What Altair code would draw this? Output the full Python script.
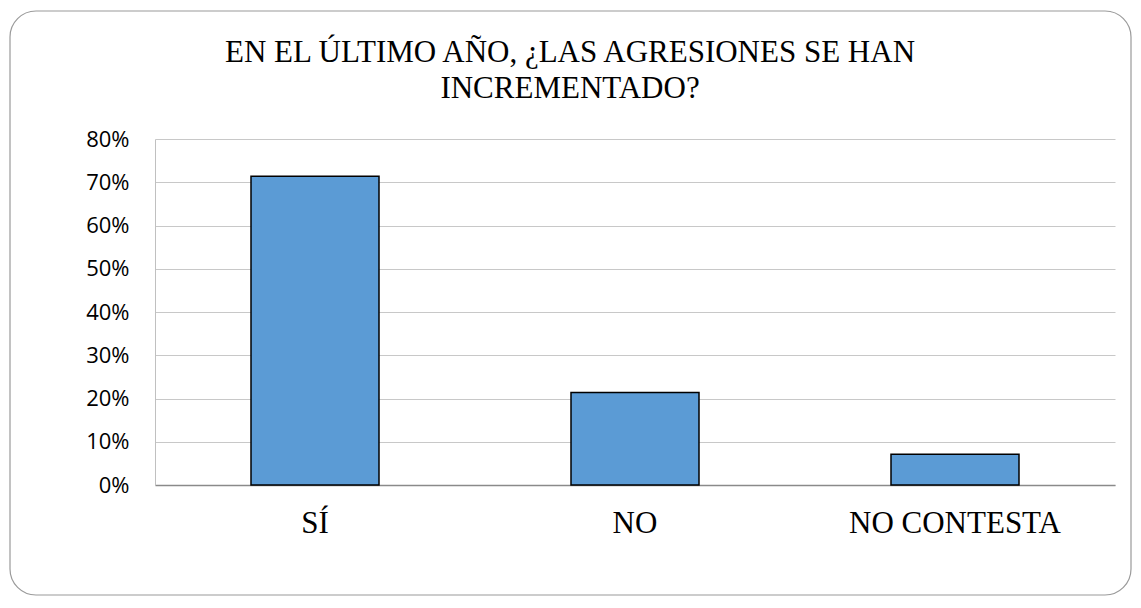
import altair as alt
import pandas as pd

categories = ["SÍ", "NO", "NO CONTESTA"]
values = [0.714, 0.214, 0.071]
y_ticks = [0, 0.1, 0.2, 0.3, 0.4, 0.5, 0.6, 0.7, 0.8]
title_lines = ["EN EL ÚLTIMO AÑO, ¿LAS AGRESIONES SE HAN", "INCREMENTADO?"]

df = pd.DataFrame({"cat": categories, "val": values})
one = pd.DataFrame({"a": [0]})

bars = alt.Chart(df).mark_bar(
    color="#5B9BD5", stroke="#000000", strokeWidth=1.5
).encode(
    x=alt.X("cat:N", sort=None, title=None,
            scale=alt.Scale(paddingInner=0.6, paddingOuter=0.3),
            axis=alt.Axis(labelAngle=0, labelFont="Liberation Serif", labelFontSize=31,
                          labelColor="#000000", ticks=False, labelPadding=23, labelLimit=0,
                          domainColor="#8a8a8a", domainWidth=1.5, grid=False)),
    y=alt.Y("val:Q", title=None,
            scale=alt.Scale(domain=[0, 0.8], nice=False),
            axis=alt.Axis(values=y_ticks, format=".0%", labelFont="Open Sans",
                          labelFontSize=22, labelColor="#000000", ticks=False,
                          labelPadding=26, domainColor="#c0c0c0", gridColor="#c8c8c8",
                          gridWidth=1)),
)

border = alt.Chart(one).mark_rect(
    fill=None, stroke="#9a9a9a", strokeWidth=1.2, cornerRadius=26
).encode(
    x=alt.value(-145), x2=alt.value(976),
    y=alt.value(-128), y2=alt.value(456),
)

title = alt.Chart(one).mark_text(
    font="Liberation Serif", fontSize=31, color="#000000", align="center",
    baseline="alphabetic", lineHeight=36
).encode(
    x=alt.value(415), y=alt.value(-77), text=alt.value(title_lines),
)

chart = alt.layer(border, title, bars).properties(
    width=960, height=346,
    autosize=alt.AutoSizeParams(type="none"),
    padding={"left": 147, "top": 131, "right": 18, "bottom": 111},
).configure_view(stroke=None)

chart.save("out.html", embed_options={"renderer": "svg", "actions": False})
